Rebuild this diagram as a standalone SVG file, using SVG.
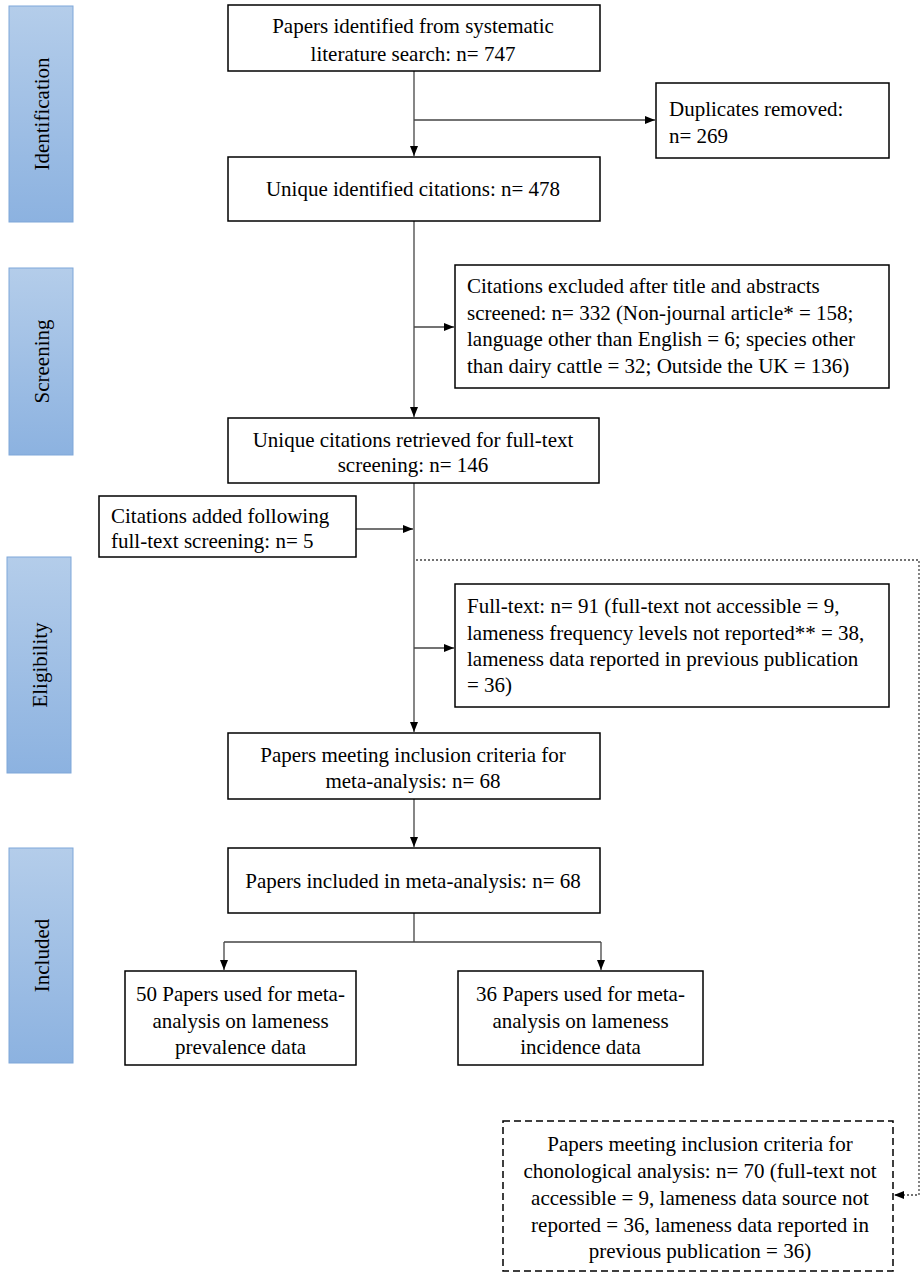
<svg xmlns="http://www.w3.org/2000/svg" width="924" height="1276" viewBox="0 0 924 1276">
<defs>
<linearGradient id="bar" x1="0" y1="0" x2="0" y2="1">
<stop offset="0" stop-color="#b4cdea"/>
<stop offset="1" stop-color="#8cb2e0"/>
</linearGradient>
<marker id="ah" markerWidth="10" markerHeight="8" refX="10" refY="4" orient="auto" markerUnits="userSpaceOnUse">
<path d="M0,0 L10,4 L0,8 Z" fill="#000"/>
</marker>
</defs>
<style>
.bar{fill:url(#bar);stroke:#7fa7d9;stroke-width:1}
.box{fill:#fff;stroke:#000;stroke-width:1.5}
.dbox{fill:#fff;stroke:#000;stroke-width:1.5;stroke-dasharray:7,4}
text{font-family:"Liberation Serif","Times New Roman",serif;font-size:21px;fill:#000}
.c{text-anchor:middle}
.ln{fill:none;stroke:#444;stroke-width:1.3}
.dot{fill:none;stroke:#444;stroke-width:1.3;stroke-dasharray:2,2}
</style>
<rect width="924" height="1276" fill="#fff"/>

<g id="bar-identification"><rect class="bar" x="9" y="6" width="64" height="216"/><text class="c" transform="translate(49,114) rotate(-90)">Identification</text></g>
<g id="bar-screening"><rect class="bar" x="9" y="268" width="64" height="187"/><text class="c" transform="translate(49,361.5) rotate(-90)">Screening</text></g>
<g id="bar-eligibility"><rect class="bar" x="7" y="557" width="64" height="216"/><text class="c" transform="translate(47,665) rotate(-90)">Eligibility</text></g>
<g id="bar-included"><rect class="bar" x="9" y="848" width="64" height="215"/><text class="c" transform="translate(49,955.5) rotate(-90)">Included</text></g>

<g id="connectors">
<path class="ln" d="M414,71 V156" marker-end="url(#ah)"/>
<path class="ln" d="M414,120 H655" marker-end="url(#ah)"/>
<path class="ln" d="M414,221 V417" marker-end="url(#ah)"/>
<path class="ln" d="M414,327 H454" marker-end="url(#ah)"/>
<path class="ln" d="M414,483 V732" marker-end="url(#ah)"/>
<path class="ln" d="M356,529 H413" marker-end="url(#ah)"/>
<path class="ln" d="M414,648 H454" marker-end="url(#ah)"/>
<path class="ln" d="M414,799 V847" marker-end="url(#ah)"/>
<path class="ln" d="M414,913 V942 M224,942 H601"/>
<path class="ln" d="M224,942 V970" marker-end="url(#ah)"/>
<path class="ln" d="M601,942 V970" marker-end="url(#ah)"/>
<path class="dot" d="M416,560 H919 V1195 H894" marker-end="url(#ah)"/>
</g>

<g id="n1"><rect class="box" x="228" y="5" width="372" height="66"/>
<text class="c" x="413" y="33">Papers identified from systematic</text>
<text class="c" x="413" y="61">literature search: n= 747</text></g>

<g id="n2"><rect class="box" x="656" y="83" width="233" height="75"/>
<text x="669" y="116">Duplicates removed:</text>
<text x="669" y="143">n= 269</text></g>

<g id="n3"><rect class="box" x="228" y="157" width="372" height="64"/>
<text class="c" x="413" y="196">Unique identified citations: n= 478</text></g>

<g id="n4"><rect class="box" x="455" y="265" width="434" height="123"/>
<text x="467" y="293">Citations excluded after title and abstracts</text>
<text x="467" y="319.5">screened: n= 332 (Non-journal article* = 158;</text>
<text x="467" y="346">language other than English = 6; species other</text>
<text x="467" y="372.5">than dairy cattle = 32; Outside the UK = 136)</text></g>

<g id="n5"><rect class="box" x="228" y="418" width="371" height="65"/>
<text class="c" x="413" y="447">Unique citations retrieved for full-text</text>
<text class="c" x="413" y="472">screening: n= 146</text></g>

<g id="n6"><rect class="box" x="99" y="496" width="257" height="61"/>
<text x="111" y="523">Citations added following</text>
<text x="111" y="548">full-text screening: n= 5</text></g>

<g id="n7"><rect class="box" x="455" y="584" width="434" height="123"/>
<text x="467" y="613">Full-text: n= 91 (full-text not accessible = 9,</text>
<text x="467" y="639.5">lameness frequency levels not reported** = 38,</text>
<text x="467" y="666">lameness data reported in previous publication</text>
<text x="467" y="692">= 36)</text></g>

<g id="n8"><rect class="box" x="228" y="733" width="372" height="66"/>
<text class="c" x="413" y="762">Papers meeting inclusion criteria for</text>
<text class="c" x="413" y="788">meta-analysis: n= 68</text></g>

<g id="n9"><rect class="box" x="228" y="848" width="372" height="65"/>
<text class="c" x="413" y="888">Papers included in meta-analysis: n= 68</text></g>

<g id="n10"><rect class="box" x="125" y="971" width="231" height="94"/>
<text class="c" x="240.5" y="1001">50 Papers used for meta-</text>
<text class="c" x="240.5" y="1027.5">analysis on lameness</text>
<text class="c" x="240.5" y="1054">prevalence data</text></g>

<g id="n11"><rect class="box" x="458" y="971" width="245" height="94"/>
<text class="c" x="580.5" y="1001">36 Papers used for meta-</text>
<text class="c" x="580.5" y="1027.5">analysis on lameness</text>
<text class="c" x="580.5" y="1054">incidence data</text></g>

<g id="n12"><rect class="dbox" x="503" y="1121" width="390" height="150"/>
<text class="c" x="700" y="1151">Papers meeting inclusion criteria for</text>
<text class="c" x="700" y="1177.5">chonological analysis: n= 70 (full-text not</text>
<text class="c" x="700" y="1204.5">accessible = 9, lameness data source not</text>
<text class="c" x="700" y="1231.5">reported = 36, lameness data reported in</text>
<text class="c" x="700" y="1258">previous publication = 36)</text></g>
</svg>
